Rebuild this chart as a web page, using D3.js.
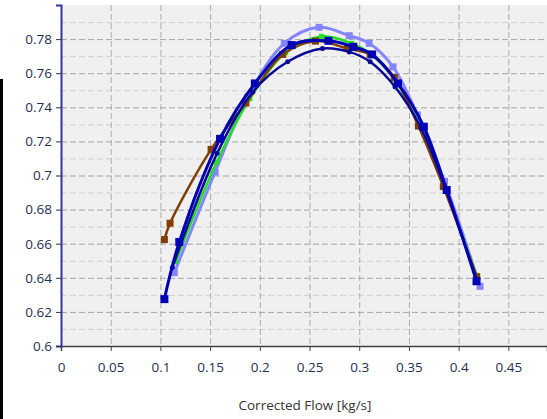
<!DOCTYPE html>
<html>
<head>
<meta charset="utf-8">
<script src="https://cdn.jsdelivr.net/npm/d3@7"></script>
<style>
  html, body { margin: 0; padding: 0; background: #ffffff; }
  #chart { width: 547px; height: 419px; }
  text { font-family: "Open Sans", "DejaVu Sans", sans-serif; }
</style>
</head>
<body>
<div id="chart"></div>
<script>
// ---------------------------------------------------
// DATA — efficiency vs corrected flow, one array per speed line
// [flow kg/s, efficiency]
// ---------------------------------------------------
const lightBlue = [
  [0.114, 0.643], [0.155, 0.702], [0.188, 0.746], [0.2247, 0.7775],
  [0.2596, 0.7869], [0.290, 0.782], [0.310, 0.7775], [0.334, 0.7637],
  [0.3585, 0.7355], [0.3858, 0.6966], [0.4215, 0.635]
];
const green = [
  [0.1154, 0.6496], [0.1566, 0.7078], [0.190, 0.745], [0.226, 0.772],
  [0.262, 0.7816], [0.2924, 0.7775], [0.311, 0.7716], [0.336, 0.756],
  [0.360, 0.730], [0.385, 0.694], [0.418, 0.6415]
];
const brown = [
  [0.104, 0.6624], [0.1097, 0.672], [0.151, 0.7153], [0.186, 0.7425],
  [0.223, 0.771], [0.256, 0.7788], [0.288, 0.7745], [0.311, 0.771],
  [0.3353, 0.7575], [0.3595, 0.729], [0.3846, 0.6935], [0.4182, 0.6406]
];
const navy = [
  [0.112, 0.646], [0.157, 0.713], [0.193, 0.749], [0.228, 0.7667],
  [0.263, 0.7745], [0.290, 0.7725], [0.311, 0.7667], [0.336, 0.752],
  [0.362, 0.728], [0.387, 0.692], [0.418, 0.639]
];
const darkBlue = [
  [0.104, 0.6275], [0.119, 0.661], [0.160, 0.7215], [0.195, 0.754],
  [0.232, 0.7765], [0.269, 0.779], [0.294, 0.7755], [0.313, 0.771],
  [0.339, 0.754], [0.365, 0.7286], [0.388, 0.6915], [0.418, 0.638]
];

const xTicks = [0, 0.05, 0.1, 0.15, 0.2, 0.25, 0.3, 0.35, 0.4, 0.45];
const yTicks = [0.6, 0.62, 0.64, 0.66, 0.68, 0.7, 0.72, 0.74, 0.76, 0.78];
const yMinor = [0.61, 0.63, 0.65, 0.67, 0.69, 0.71, 0.73, 0.75, 0.77, 0.79];
const xLabel = "Corrected Flow [kg/s]";

// ---------------------------------------------------
// CHART DIMENSIONS
// ---------------------------------------------------
const width = 547;
const height = 419;
const margin = { top: 5, bottom: 73, left: 61, right: 0 };
const innerWidth = width - margin.left - margin.right;
const innerHeight = height - margin.top - margin.bottom;

const svg = d3.select("#chart")
  .append("svg")
  .attr("width", width)
  .attr("height", height);

// odd black strip on the left edge of the screenshot
svg.append("rect")
  .attr("x", 0).attr("y", 79)
  .attr("width", 3).attr("height", height - 79)
  .attr("fill", "#000");

const g = svg.append("g")
  .attr("transform", `translate(${margin.left},${margin.top})`);

// ---------------------------------------------------
// SCALES (x axis runs past the right edge)
// ---------------------------------------------------
const x = d3.scaleLinear()
  .domain([0, 0.4889])
  .range([0, innerWidth]);

const y = d3.scaleLinear()
  .domain([0.6, 0.8])
  .range([innerHeight, 0]);

// plot background
g.append("rect")
  .attr("width", innerWidth)
  .attr("height", innerHeight)
  .attr("fill", "#f0f0f0");

// ---------------------------------------------------
// GRID
// ---------------------------------------------------
g.append("g")
  .selectAll("line")
  .data(yMinor)
  .join("line")
  .attr("x1", 0).attr("x2", innerWidth)
  .attr("y1", d => y(d) + 0.5).attr("y2", d => y(d) + 0.5)
  .attr("stroke", "#cfcfcf")
  .attr("stroke-dasharray", "6,3");

g.append("g")
  .selectAll("line")
  .data(yTicks.slice(1))
  .join("line")
  .attr("x1", 0).attr("x2", innerWidth)
  .attr("y1", d => y(d) + 0.5).attr("y2", d => y(d) + 0.5)
  .attr("stroke", "#a4a4a4")
  .attr("stroke-dasharray", "6,3");

g.append("g")
  .selectAll("line")
  .data(xTicks.slice(1))
  .join("line")
  .attr("x1", d => x(d) + 0.5).attr("x2", d => x(d) + 0.5)
  .attr("y1", 0).attr("y2", innerHeight)
  .attr("stroke", "#acacac")
  .attr("stroke-dasharray", "6,3");

// ---------------------------------------------------
// AXES
// ---------------------------------------------------
const fmt = d => String(+d.toFixed(2));

const xAxis = g.append("g")
  .attr("transform", `translate(0,${innerHeight})`)
  .call(d3.axisBottom(x).tickValues(xTicks).tickSize(5).tickPadding(11).tickFormat(fmt));

xAxis.select(".domain").attr("stroke", "#404040").attr("stroke-width", 1.5);
xAxis.selectAll(".tick line").attr("stroke", "#404040");

const yAxis = g.append("g")
  .call(d3.axisLeft(y).tickValues(yTicks).tickSize(5).tickPadding(4).tickFormat(fmt));

yAxis.select(".domain").attr("stroke", "#3535a5").attr("stroke-width", 2);
yAxis.selectAll(".tick line").attr("stroke", "#303030");

svg.selectAll(".tick text")
  .attr("fill", "#1e2f52")
  .style("font-size", "13.5px");

svg.append("text")
  .attr("x", 305)
  .attr("y", 410)
  .attr("text-anchor", "middle")
  .attr("fill", "#333")
  .style("font-size", "13.5px")
  .text(xLabel);

// ---------------------------------------------------
// SERIES — drawn back to front
// ---------------------------------------------------
const series = [
  { data: lightBlue, color: "#8585ff", width: 3, marker: 7, shape: "square" },
  { data: green, color: "#22e022", width: 2.5, marker: 5, shape: "square" },
  { data: brown, color: "#7f3f05", width: 2.5, marker: 7, shape: "square" },
  { data: navy, color: "#0a0a95", width: 2.5, marker: 5, shape: "circle" },
  { data: darkBlue, color: "#0000b4", width: 3, marker: 8, shape: "square" }
];

const line = d3.line()
  .x(d => x(d[0]))
  .y(d => y(d[1]))
  .curve(d3.curveCatmullRom.alpha(0.5));

const plot = g.append("g");

series.forEach(s => {
  plot.append("path")
    .attr("fill", "none")
    .attr("stroke", s.color)
    .attr("stroke-width", s.width)
    .attr("d", line(s.data));

  if (s.shape === "square") {
    plot.append("g")
      .selectAll("rect")
      .data(s.data)
      .join("rect")
      .attr("x", d => x(d[0]) - s.marker / 2)
      .attr("y", d => y(d[1]) - s.marker / 2)
      .attr("width", s.marker)
      .attr("height", s.marker)
      .attr("fill", s.color);
  } else {
    plot.append("g")
      .selectAll("circle")
      .data(s.data)
      .join("circle")
      .attr("cx", d => x(d[0]))
      .attr("cy", d => y(d[1]))
      .attr("r", s.marker / 2)
      .attr("fill", s.color);
  }
});
</script>
</body>
</html>
